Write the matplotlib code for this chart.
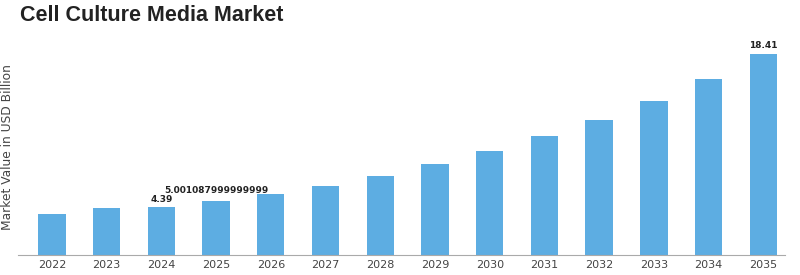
import matplotlib.pyplot as plt

years = [2022, 2023, 2024, 2025, 2026, 2027, 2028, 2029, 2030, 2031, 2032, 2033, 2034, 2035]
values = [3.80, 4.32, 4.39, 5.001087999999999, 5.63, 6.38, 7.30, 8.37, 9.52, 10.87, 12.40, 14.14, 16.10, 18.41]
labelled = {2024: "4.39", 2025: "5.001087999999999", 2035: "18.41"}

fig = plt.figure(figsize=(8, 2.75), dpi=100)
ax = fig.add_axes([0.0225, 0.071, 0.959, 0.785])

x = list(range(len(years)))
ax.bar(x, values, width=0.5, color='#5DADE2')

for i, (yr, v) in enumerate(zip(years, values)):
    if yr in labelled:
        off = 0.35 if yr != 2025 else 0.5
        ax.text(i, v + off, labelled[yr], ha='center', va='bottom',
                fontsize=6.5, fontweight='bold', color='#222222')

ax.set_xlim(-0.62, 13.4)
ax.set_ylim(0, 19.72)
ax.set_xticks(x)
ax.set_xticklabels([str(y) for y in years], fontsize=8, color='#444444')
ax.set_yticks([])
ax.tick_params(axis='x', length=0, pad=3)
for s in ['top', 'right', 'left']:
    ax.spines[s].set_visible(False)
ax.spines['bottom'].set_color('#aaaaaa')
ax.set_ylabel('Market Value in USD Billion', fontsize=8.8, color='#444444', labelpad=3)

fig.text(0.025, 0.945, 'Cell Culture Media Market', fontsize=15.5, fontweight='bold',
         color='#222222', va='center', family='Liberation Sans')

fig.savefig('out.png', dpi=100)
